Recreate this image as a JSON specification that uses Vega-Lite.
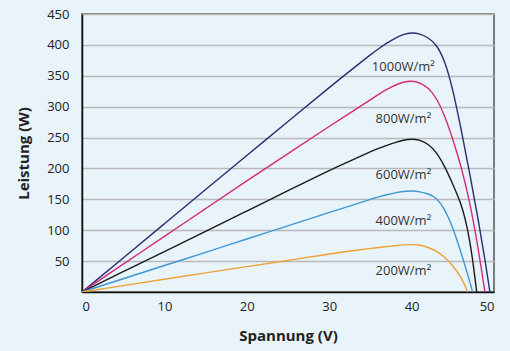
{
  "$schema": "https://vega.github.io/schema/vega-lite/v6.json",
  "width": 412,
  "height": 278,
  "autosize": {"type": "none"},
  "padding": {"left": 82, "top": 14, "right": 16, "bottom": 59},
  "background": "#e9f3fa",
  "config": {
    "font": "Open Sans",
    "view": {"stroke": "#555555", "strokeWidth": 1.5, "fill": "#e9f3fa"},
    "axis": {"labelOverlap": false},
    "axisY": {"labelOverlap": false},
    "axisX": {"labelOverlap": false}
  },
  "datasets": {
    "curves": [
      {"s": "1000", "V": 0, "P": 0}, {"s": "1000", "V": 5, "P": 55}, {"s": "1000", "V": 10, "P": 110.5}, {"s": "1000", "V": 15, "P": 166}, {"s": "1000", "V": 20, "P": 221}, {"s": "1000", "V": 25, "P": 276}, {"s": "1000", "V": 30, "P": 331}, {"s": "1000", "V": 33, "P": 363}, {"s": "1000", "V": 35, "P": 384}, {"s": "1000", "V": 36, "P": 394}, {"s": "1000", "V": 37, "P": 403}, {"s": "1000", "V": 38, "P": 411}, {"s": "1000", "V": 39, "P": 417}, {"s": "1000", "V": 40, "P": 420}, {"s": "1000", "V": 41, "P": 418}, {"s": "1000", "V": 42, "P": 412}, {"s": "1000", "V": 43, "P": 401}, {"s": "1000", "V": 44, "P": 376}, {"s": "1000", "V": 45, "P": 329}, {"s": "1000", "V": 46, "P": 264}, {"s": "1000", "V": 47, "P": 196}, {"s": "1000", "V": 48, "P": 124}, {"s": "1000", "V": 49, "P": 45}, {"s": "1000", "V": 49.5, "P": 0},
      {"s": "800", "V": 0, "P": 0}, {"s": "800", "V": 5, "P": 45}, {"s": "800", "V": 10, "P": 90}, {"s": "800", "V": 15, "P": 135}, {"s": "800", "V": 20, "P": 180}, {"s": "800", "V": 25, "P": 224}, {"s": "800", "V": 30, "P": 268}, {"s": "800", "V": 33, "P": 294}, {"s": "800", "V": 35, "P": 311}, {"s": "800", "V": 36, "P": 320}, {"s": "800", "V": 37, "P": 328}, {"s": "800", "V": 38, "P": 335}, {"s": "800", "V": 39, "P": 340}, {"s": "800", "V": 40, "P": 342}, {"s": "800", "V": 41, "P": 339}, {"s": "800", "V": 42, "P": 331}, {"s": "800", "V": 43, "P": 315}, {"s": "800", "V": 44, "P": 286}, {"s": "800", "V": 45, "P": 248}, {"s": "800", "V": 46, "P": 204}, {"s": "800", "V": 47, "P": 150}, {"s": "800", "V": 48, "P": 78}, {"s": "800", "V": 48.9, "P": 0},
      {"s": "600", "V": 0, "P": 0}, {"s": "600", "V": 5, "P": 33}, {"s": "600", "V": 10, "P": 65.5}, {"s": "600", "V": 15, "P": 98}, {"s": "600", "V": 20, "P": 131}, {"s": "600", "V": 25, "P": 164}, {"s": "600", "V": 30, "P": 197}, {"s": "600", "V": 33, "P": 215}, {"s": "600", "V": 35, "P": 227}, {"s": "600", "V": 36, "P": 232.5}, {"s": "600", "V": 37, "P": 237.5}, {"s": "600", "V": 38, "P": 242}, {"s": "600", "V": 39, "P": 246}, {"s": "600", "V": 40, "P": 248}, {"s": "600", "V": 41, "P": 246}, {"s": "600", "V": 42, "P": 240}, {"s": "600", "V": 43, "P": 227}, {"s": "600", "V": 44, "P": 204}, {"s": "600", "V": 45, "P": 175}, {"s": "600", "V": 46, "P": 143}, {"s": "600", "V": 46.5, "P": 119}, {"s": "600", "V": 47, "P": 88}, {"s": "600", "V": 47.5, "P": 44}, {"s": "600", "V": 47.9, "P": 0},
      {"s": "400", "V": 0, "P": 0}, {"s": "400", "V": 5, "P": 21.5}, {"s": "400", "V": 10, "P": 43}, {"s": "400", "V": 15, "P": 64}, {"s": "400", "V": 20, "P": 86}, {"s": "400", "V": 25, "P": 107}, {"s": "400", "V": 30, "P": 129}, {"s": "400", "V": 33, "P": 141}, {"s": "400", "V": 35, "P": 150}, {"s": "400", "V": 36, "P": 154}, {"s": "400", "V": 37, "P": 157.5}, {"s": "400", "V": 38, "P": 160.5}, {"s": "400", "V": 39, "P": 163}, {"s": "400", "V": 40, "P": 164}, {"s": "400", "V": 41, "P": 162.5}, {"s": "400", "V": 42, "P": 159}, {"s": "400", "V": 43, "P": 153}, {"s": "400", "V": 44, "P": 135}, {"s": "400", "V": 45, "P": 105}, {"s": "400", "V": 46, "P": 64}, {"s": "400", "V": 47, "P": 20}, {"s": "400", "V": 47.4, "P": 0},
      {"s": "200", "V": 0, "P": 0}, {"s": "200", "V": 5, "P": 10.3}, {"s": "200", "V": 10, "P": 20.5}, {"s": "200", "V": 15, "P": 31}, {"s": "200", "V": 20, "P": 41}, {"s": "200", "V": 25, "P": 51}, {"s": "200", "V": 30, "P": 61.5}, {"s": "200", "V": 33, "P": 67}, {"s": "200", "V": 35, "P": 70.5}, {"s": "200", "V": 36, "P": 72}, {"s": "200", "V": 37, "P": 73.5}, {"s": "200", "V": 38, "P": 75}, {"s": "200", "V": 39, "P": 76.3}, {"s": "200", "V": 40, "P": 77}, {"s": "200", "V": 41, "P": 76}, {"s": "200", "V": 42, "P": 72.5}, {"s": "200", "V": 43, "P": 66.5}, {"s": "200", "V": 44, "P": 57}, {"s": "200", "V": 45, "P": 43}, {"s": "200", "V": 46, "P": 24}, {"s": "200", "V": 46.4, "P": 13}, {"s": "200", "V": 46.8, "P": 0}
    ],
    "labels": [
      {"t": "1000W/m²", "V": 39.0, "P": 364},
      {"t": "800W/m²", "V": 39.0, "P": 279.5},
      {"t": "600W/m²", "V": 39.0, "P": 188.7},
      {"t": "400W/m²", "V": 39.0, "P": 114.5},
      {"t": "200W/m²", "V": 39.0, "P": 33.4}
    ]
  },
  "encoding": {
    "x": {
      "field": "V", "type": "quantitative",
      "scale": {"domain": [0, 50], "nice": false},
      "axis": {
        "values": [0, 10, 20, 30, 40, 50], "grid": false, "ticks": false,
        "domainColor": "#111111", "domainWidth": 1.5, "labelOverlap": false,
        "labelFont": "Open Sans", "labelFontSize": 13, "labelColor": "#222222", "labelPadding": 8,
        "title": "Spannung (V)", "titleFont": "Open Sans", "titleFontSize": 15, "titleFontWeight": "bold",
        "titleColor": "#222222", "titlePadding": 15
      }
    },
    "y": {
      "field": "P", "type": "quantitative",
      "scale": {"domain": [0, 450], "nice": false},
      "axis": {
        "values": [50, 100, 150, 200, 250, 300, 350, 400, 450], "grid": true, "gridColor": "#b9b9b9", "gridWidth": 1.5,
        "ticks": false, "domainColor": "#111111", "domainWidth": 1.5, "labelOverlap": false,
        "labelFont": "Open Sans", "labelFontSize": 13, "labelColor": "#222222", "labelPadding": 13,
        "title": "Leistung (W)", "titleFont": "Open Sans", "titleFontSize": 15, "titleFontWeight": "bold",
        "titleColor": "#222222", "titlePadding": 15
      }
    }
  },
  "layer": [
    {
      "data": {"name": "curves"},
      "mark": {"type": "line", "interpolate": "basis", "strokeWidth": 1.4, "clip": true},
      "encoding": {
        "color": {
          "field": "s", "type": "nominal",
          "scale": {"domain": ["1000", "800", "600", "400", "200"], "range": ["#2d2c70", "#d42a7a", "#1a1a1a", "#3e98d3", "#efa033"]},
          "legend": null
        },
        "detail": {"field": "s"}
      }
    },
    {
      "data": {"name": "labels"},
      "mark": {"type": "text", "align": "center", "baseline": "middle", "font": "Open Sans", "fontSize": 13, "color": "#333333"},
      "encoding": {
        "text": {"field": "t"}
      }
    }
  ]
}
